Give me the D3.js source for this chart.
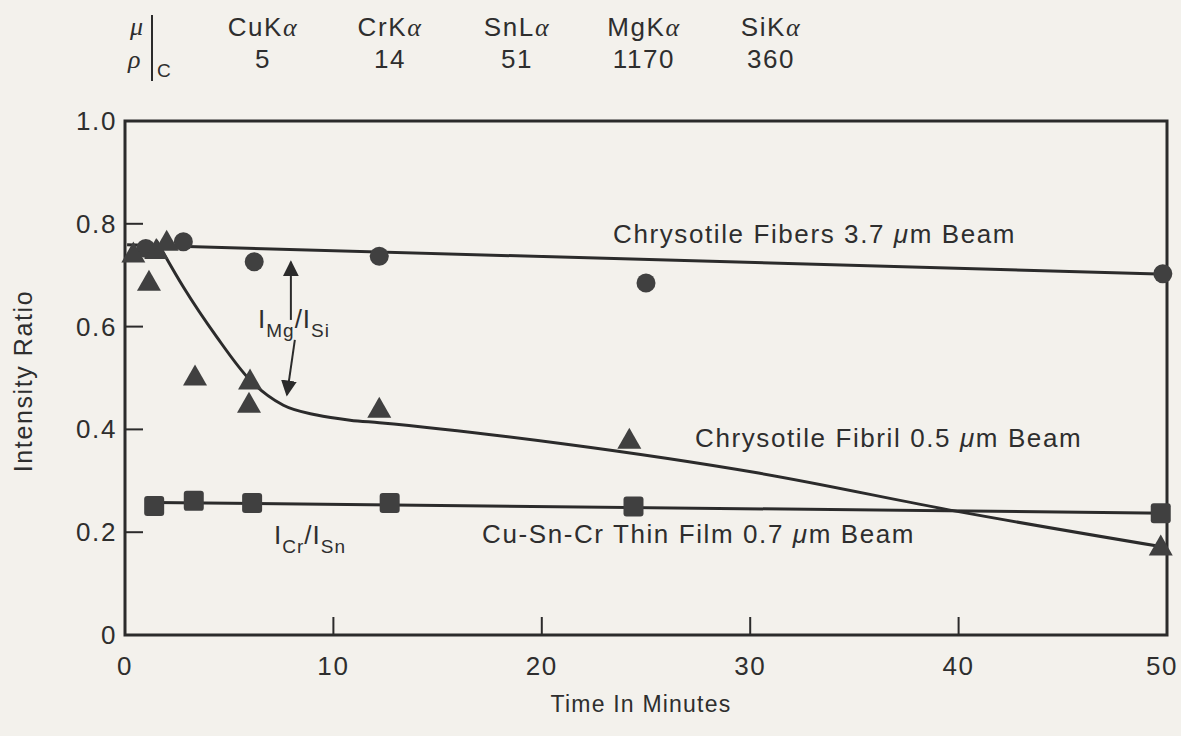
<!DOCTYPE html>
<html><head><meta charset="utf-8">
<script src="https://cdn.jsdelivr.net/npm/d3@7"></script>
<style>
body{margin:0;background:#f3f1ec;}
svg{display:block;}
text{font-family:"Liberation Sans",Arial,sans-serif;fill:#2e2e2e;}
</style>
</head><body>
<svg id="chart" width="1181" height="736"></svg>
<script>
// ---------- data ----------
const xTicks = [0, 10, 20, 30, 40, 50];
const xTickLabels = ["0", "10", "20", "30", "40", "50"];
const yTicks = [0, 0.2, 0.4, 0.6, 0.8, 1.0];
const yTickLabels = ["0", "0.2", "0.4", "0.6", "0.8", "1.0"];

const lineNames = ["CuK", "CrK", "SnL", "MgK", "SiK"];
const massAbsorption = ["5", "14", "51", "1170", "360"];

// Chrysotile Fibers 3.7 um beam (circles)
const fibersPoints = [[1.0, 0.752], [2.8, 0.765], [6.2, 0.726], [12.2, 0.737], [25.0, 0.685], [49.8, 0.703]];
const fibersFit = [[0.1, 0.759], [50, 0.702]];

// Chrysotile Fibril 0.5 um beam (triangles)
const fibrilPoints = [[0.4, 0.745], [1.5, 0.752], [1.15, 0.69], [2.0, 0.768], [3.36, 0.506], [6.0, 0.498],
                      [5.95, 0.453], [12.2, 0.443], [24.2, 0.383], [49.7, 0.175]];
const fibrilFit = [[1.5, 0.768], [2.8, 0.677], [4.4, 0.58], [6.0, 0.496], [7.6, 0.447], [9.2, 0.428],
                   [10.8, 0.418], [12.2, 0.413], [21, 0.372], [30.4, 0.315], [40, 0.24], [49.7, 0.172]];

// Cu-Sn-Cr thin film 0.7 um beam (squares)
const filmPoints = [[1.4, 0.251], [3.3, 0.261], [6.1, 0.257], [12.7, 0.257], [24.4, 0.25], [49.7, 0.237]];
const filmFit = [[1.4, 0.258], [50, 0.237]];

// ---------- layout ----------
const svg = d3.select("#chart");
const W = 1181, H = 736;
svg.append("rect").attr("width", W).attr("height", H).attr("fill", "#f3f1ec");

const x = d3.scaleLinear().domain([0, 50]).range([125, 1167]);
const y = d3.scaleLinear().domain([0, 1]).range([635, 121]);
const ink = "#2b2b2b", markInk = "#404040";

// frame
svg.append("rect").attr("x", x(0)).attr("y", y(1)).attr("width", x(50) - x(0)).attr("height", y(0) - y(1))
  .attr("fill", "none").attr("stroke", ink).attr("stroke-width", 3);

// inner ticks
const tickLen = 18;
svg.append("g").selectAll("line").data(xTicks.filter(d => d > 0 && d < 50)).join("line")
  .attr("x1", d => x(d)).attr("x2", d => x(d)).attr("y1", y(0)).attr("y2", y(0) - tickLen)
  .attr("stroke", ink).attr("stroke-width", 2);
svg.append("g").selectAll("line").data(yTicks.filter(d => d > 0 && d < 1)).join("line")
  .attr("x1", x(0)).attr("x2", x(0) + tickLen).attr("y1", d => y(d)).attr("y2", d => y(d))
  .attr("stroke", ink).attr("stroke-width", 2);

// tick labels
const fs = 26, ls = 1.6;
svg.append("g").selectAll("text").data(xTicks).join("text")
  .attr("x", d => Math.min(x(d), 1162)).attr("y", 675).attr("text-anchor", "middle")
  .attr("font-size", fs).attr("letter-spacing", ls).text((d, i) => xTickLabels[i]);
svg.append("g").selectAll("text").data(yTicks).join("text")
  .attr("x", 117).attr("y", d => y(d) + 9).attr("text-anchor", "end")
  .attr("font-size", fs).attr("letter-spacing", ls).text((d, i) => yTickLabels[i]);

// axis titles
svg.append("text").attr("x", 641).attr("y", 712).attr("text-anchor", "middle")
  .attr("font-size", 23).attr("letter-spacing", 1.2).text("Time In Minutes");
svg.append("text").attr("transform", "translate(32,381) rotate(-90)").attr("text-anchor", "middle")
  .attr("font-size", 25).attr("letter-spacing", 1.6).text("Intensity Ratio");

// header
const hx = d3.scaleLinear().domain([0, 4]).range([263, 771]);
svg.append("text").attr("x", 130).attr("y", 35).attr("font-size", 26)
  .style("font-family", "'Liberation Serif',serif").attr("font-style", "italic").text("μ");
svg.append("text").attr("x", 128).attr("y", 68).attr("font-size", 26)
  .style("font-family", "'Liberation Serif',serif").attr("font-style", "italic").text("ρ");
svg.append("line").attr("x1", 152).attr("x2", 152).attr("y1", 15).attr("y2", 81).attr("stroke", ink).attr("stroke-width", 2);
svg.append("text").attr("x", 157).attr("y", 77).attr("font-size", 19).text("C");
const hdr = svg.append("g").selectAll("text").data(lineNames).join("text")
  .attr("x", (d, i) => hx(i)).attr("y", 36).attr("text-anchor", "middle")
  .attr("font-size", fs).attr("letter-spacing", ls);
hdr.append("tspan").text(d => d);
hdr.append("tspan").attr("font-style", "italic").style("font-family", "'Liberation Serif',serif").text("α");
svg.append("g").selectAll("text").data(massAbsorption).join("text")
  .attr("x", (d, i) => hx(i)).attr("y", 68).attr("text-anchor", "middle")
  .attr("font-size", fs).attr("letter-spacing", ls).text(d => d);

// fit lines
const line = d3.line().x(d => x(d[0])).y(d => y(d[1]));
const curve = d3.line().x(d => x(d[0])).y(d => y(d[1])).curve(d3.curveMonotoneX);
svg.append("path").attr("d", line(fibersFit)).attr("fill", "none").attr("stroke", ink).attr("stroke-width", 3);
svg.append("path").attr("d", line(filmFit)).attr("fill", "none").attr("stroke", ink).attr("stroke-width", 3);
svg.append("path").attr("d", curve(fibrilFit)).attr("fill", "none").attr("stroke", ink).attr("stroke-width", 3);

// markers
svg.append("g").selectAll("circle").data(fibersPoints).join("circle")
  .attr("cx", d => x(d[0])).attr("cy", d => y(d[1])).attr("r", 9.5).attr("fill", markInk);
const tw = 24, th = 21;
svg.append("g").selectAll("path").data(fibrilPoints).join("path")
  .attr("d", d => {
    const cx = x(d[0]), cy = y(d[1]);
    return `M${cx},${cy - th / 2}L${cx + tw / 2},${cy + th / 2}L${cx - tw / 2},${cy + th / 2}Z`;
  }).attr("fill", markInk);
svg.append("g").selectAll("rect").data(filmPoints).join("rect")
  .attr("x", d => x(d[0]) - 10).attr("y", d => y(d[1]) - 10).attr("width", 20).attr("height", 20)
  .attr("rx", 3).attr("fill", markInk);

// series labels
function label(tx, ty, parts) {
  const t = svg.append("text").attr("x", tx).attr("y", ty).attr("font-size", fs).attr("letter-spacing", ls);
  parts.forEach(p => {
    const s = t.append("tspan").text(p.t);
    if (p.i) s.attr("font-style", "italic");
  });
}
label(613, 243, [{t: "Chrysotile Fibers 3.7 "}, {t: "μ", i: 1}, {t: "m Beam"}]);
label(695, 447, [{t: "Chrysotile Fibril 0.5 "}, {t: "μ", i: 1}, {t: "m Beam"}]);
label(482, 543, [{t: "Cu-Sn-Cr Thin Film 0.7 "}, {t: "μ", i: 1}, {t: "m Beam"}]);

// ratio annotations
function ratio(tx, ty, a, b) {
  const t = svg.append("text").attr("x", tx).attr("y", ty).attr("font-size", fs).attr("letter-spacing", 1);
  t.append("tspan").text("I");
  t.append("tspan").attr("font-size", 19).attr("dy", 9).text(a);
  t.append("tspan").attr("dy", -9).text("/I");
  t.append("tspan").attr("font-size", 19).attr("dy", 9).text(b);
}
ratio(258, 328, "Mg", "Si");
ratio(274, 544, "Cr", "Sn");

// arrows
const defs = svg.append("defs");
defs.append("marker").attr("id", "ah").attr("viewBox", "0 0 10 10").attr("refX", 9).attr("refY", 5)
  .attr("markerWidth", 16).attr("markerHeight", 16).attr("markerUnits", "userSpaceOnUse")
  .attr("orient", "auto").append("path").attr("d", "M0,0L10,5L0,10Z").attr("fill", ink);
svg.append("line").attr("x1", x(7.96)).attr("y1", y(0.613)).attr("x2", x(7.96)).attr("y2", y(0.726))
  .attr("stroke", ink).attr("stroke-width", 2).attr("marker-end", "url(#ah)");
svg.append("line").attr("x1", x(8.15)).attr("y1", y(0.574)).attr("x2", x(7.77)).attr("y2", y(0.467))
  .attr("stroke", ink).attr("stroke-width", 2).attr("marker-end", "url(#ah)");
</script>
</body></html>
